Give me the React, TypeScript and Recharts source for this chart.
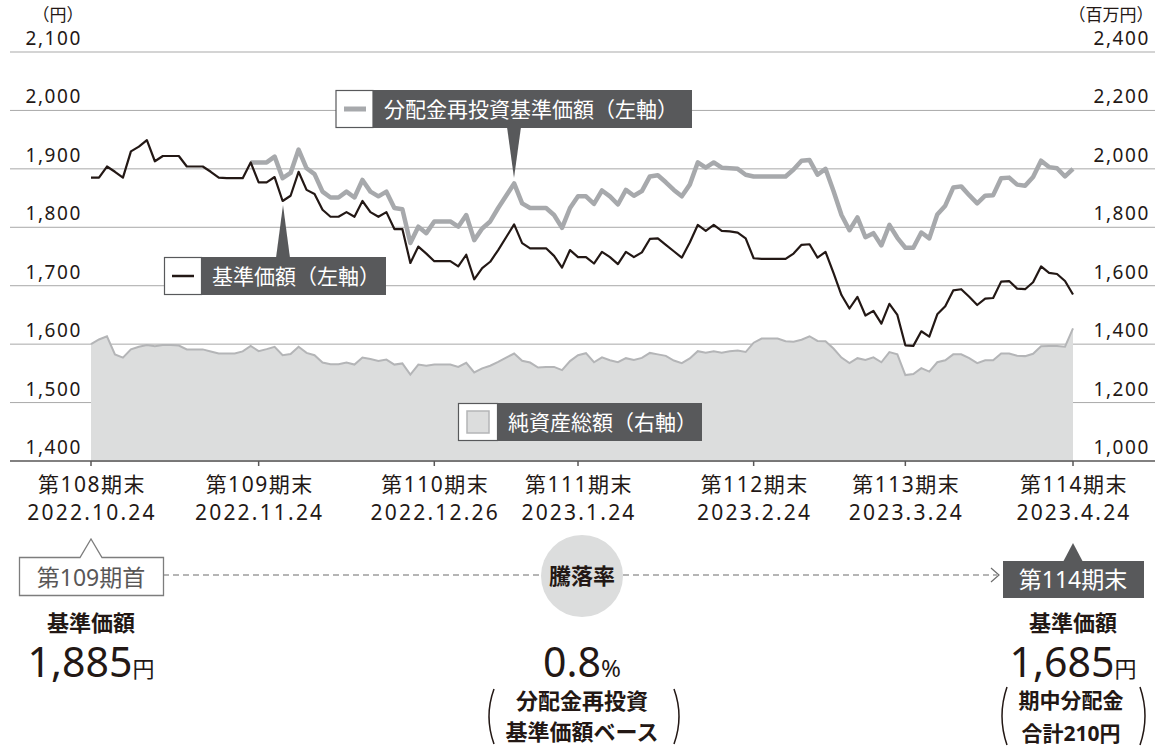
import React from 'react';
import { ComposedChart, Line, Area, XAxis, YAxis, CartesianGrid } from 'recharts';

// 基準価額 (円) — one value per business day, 2022.10.24 .. 2023.4.24
const navPrice = [
  1885, 1885, 1904, 1895, 1885, 1930, 1938, 1949, 1913, 1922,
  1922, 1922, 1904, 1904, 1904, 1895, 1885, 1884, 1884, 1884,
  1911, 1877, 1877, 1886, 1845, 1854, 1895, 1864, 1857, 1830,
  1818, 1818, 1826, 1818, 1845, 1826, 1818, 1826, 1797, 1797,
  1739, 1767, 1755, 1742, 1742, 1742, 1733, 1753, 1711, 1730,
  1741, 1761, 1783, 1805, 1773, 1764, 1764, 1764, 1751, 1731,
  1761, 1749, 1749, 1738, 1758, 1749, 1737, 1758, 1749, 1757,
  1780, 1781, 1770, 1759, 1748, 1774, 1804, 1794, 1804, 1794,
  1793, 1791, 1781, 1747, 1746, 1746, 1746, 1746, 1755, 1770,
  1771, 1748, 1758, 1722, 1684, 1661, 1681, 1649, 1657, 1635,
  1669, 1650, 1598, 1597, 1622, 1613, 1651, 1665, 1692, 1694,
  1681, 1667, 1678, 1679, 1707, 1708, 1695, 1694, 1706, 1733,
  1722, 1720, 1708, 1685,
];

// 分配金再投資基準価額 (円) — starts at index reinvStart
const reinvStart = 20;
const reinvPrice = [
  1911, 1911, 1911, 1921, 1884, 1893, 1933, 1901, 1891, 1861,
  1851, 1851, 1861, 1851, 1881, 1861, 1853, 1861, 1833, 1831,
  1773, 1801, 1790, 1810, 1810, 1810, 1801, 1821, 1778, 1798,
  1810, 1833, 1854, 1875, 1841, 1833, 1833, 1833, 1821, 1799,
  1833, 1853, 1853, 1840, 1863, 1853, 1839, 1864, 1854, 1862,
  1887, 1889, 1877, 1864, 1853, 1873, 1911, 1902, 1911, 1902,
  1901, 1900, 1890, 1887, 1887, 1887, 1887, 1887, 1899, 1914,
  1915, 1890, 1900, 1862, 1821, 1795, 1817, 1783, 1790, 1769,
  1804, 1782, 1765, 1765, 1791, 1781, 1822, 1837, 1868, 1870,
  1855, 1841, 1854, 1855, 1884, 1885, 1873, 1871, 1886, 1914,
  1903, 1901, 1887, 1900,
];

// 純資産総額 (百万円)
const netAssets = [
  1400, 1416, 1427, 1365, 1354, 1382, 1391, 1397, 1393, 1397,
  1397, 1395, 1382, 1382, 1382, 1375, 1368, 1368, 1368, 1375,
  1394, 1376, 1383, 1391, 1362, 1366, 1391, 1370, 1362, 1337,
  1331, 1331, 1337, 1330, 1354, 1349, 1342, 1347, 1330, 1334,
  1296, 1330, 1326, 1330, 1330, 1330, 1322, 1336, 1303, 1317,
  1326, 1339, 1354, 1368, 1343, 1337, 1320, 1322, 1322, 1311,
  1342, 1362, 1369, 1338, 1355, 1345, 1338, 1352, 1346, 1353,
  1370, 1365, 1360, 1344, 1335, 1351, 1376, 1371, 1376, 1371,
  1376, 1378, 1373, 1405, 1419, 1419, 1419, 1410, 1408, 1415,
  1427, 1411, 1410, 1385, 1354, 1335, 1352, 1346, 1355, 1338,
  1373, 1365, 1294, 1298, 1318, 1306, 1338, 1345, 1365, 1365,
  1352, 1335, 1345, 1345, 1368, 1368, 1360, 1359, 1367, 1393,
  1394, 1394, 1391, 1454,
];

const tickIndex = [0, 21, 43, 61, 83, 102, 123];
const periodLabels = ['第108期末', '第109期末', '第110期末', '第111期末', '第112期末', '第113期末', '第114期末'];
const dateLabels = ['2022.10.24', '2022.11.24', '2022.12.26', '2023.1.24', '2023.2.24', '2023.3.24', '2023.4.24'];
const leftTicks = [1400, 1500, 1600, 1700, 1800, 1900, 2000, 2100];
const rightTicks = [1000, 1200, 1400, 1600, 1800, 2000, 2200, 2400];

const data = navPrice.map((v, i) => ({
  i,
  nav: v,
  reinv: i >= reinvStart ? reinvPrice[i - reinvStart] : null,
  aum: netAssets[i],
}));

const TXT = '#231815';
const DARK = '#58595b';
const GRID = '#a9a9a9';
const LINE_GRAY = '#a7a9ac';
const AREA_FILL = '#dcdddd';
const AREA_STROKE = '#b4b5b7';
const FONT = "'Noto Sans', 'Noto Sans CJK JP', sans-serif";
const JP = "'Noto Sans CJK JP', sans-serif";

const fmt = (v: number) => v.toLocaleString('en-US');

const LeftTick = (props: any) => {
  const { y, payload } = props;
  const isBase = payload.value === leftTicks[0];
  return (
    <g>
      <line x1={10} x2={isBase ? 1155 : 91} y1={y} y2={y} stroke={isBase ? '#595757' : GRID} strokeWidth={isBase ? 1.6 : 1} />
      <text x={82} y={y - 7} textAnchor="end" fontSize={19} fill={TXT} fontFamily={FONT} letterSpacing={1.6}>
        {fmt(payload.value)}
      </text>
    </g>
  );
};

const RightTick = (props: any) => {
  const { y, payload } = props;
  const isBase = payload.value === rightTicks[0];
  return (
    <g>
      {!isBase && <line x1={1073} x2={1155} y1={y} y2={y} stroke={GRID} strokeWidth={1} />}
      <text x={1150} y={y - 7} textAnchor="end" fontSize={19} fill={TXT} fontFamily={FONT} letterSpacing={1.6}>
        {fmt(payload.value)}
      </text>
    </g>
  );
};

const XTick = (props: any) => {
  const { x, y, payload } = props;
  const k = tickIndex.indexOf(payload.value);
  return (
    <g>
      <line x1={x} x2={x} y1={y} y2={y + 5} stroke="#595757" strokeWidth={1.5} />
      <text x={x + 1} y={y + 31} textAnchor="middle" fontSize={21} fill={TXT} fontFamily={FONT} letterSpacing={1.5}>
        {periodLabels[k]}
      </text>
      <text x={x + 1} y={y + 59} textAnchor="middle" fontSize={21} fill={TXT} fontFamily={FONT} letterSpacing={2.2}>
        {dateLabels[k]}
      </text>
    </g>
  );
};

const Paren = ({ x, y1, y2, dir }: { x: number; y1: number; y2: number; dir: number }) => (
  <path d={`M${x},${y1} Q${x - dir * 10},${(y1 + y2) / 2} ${x},${y2}`} stroke={TXT} strokeWidth={1.5} fill="none" />
);

export default function App() {
  return (
    <div style={{ position: 'absolute', left: 0, top: 0, width: 1163, height: 746, background: '#fff', overflow: 'hidden' }}>
      <div style={{ position: 'absolute', left: 0, top: 0 }}>
        <ComposedChart width={1163} height={560} data={data} margin={{ top: 52, left: 10, right: 8, bottom: 0 }}>
          <CartesianGrid yAxisId="left" vertical={false} stroke={GRID} strokeWidth={1} />
          <XAxis
            dataKey="i"
            type="number"
            domain={[0, navPrice.length - 1]}
            ticks={tickIndex}
            interval={0}
            height={99}
            axisLine={false}
            tickLine={false}
            tickSize={0}
            tickMargin={0}
            tick={XTick}
          />
          <YAxis
            yAxisId="left"
            domain={[leftTicks[0], leftTicks[leftTicks.length - 1]]}
            ticks={leftTicks}
            interval={0}
            width={81}
            axisLine={false}
            tickLine={false}
            tick={LeftTick}
          />
          <YAxis
            yAxisId="right"
            orientation="right"
            domain={[rightTicks[0], rightTicks[rightTicks.length - 1]]}
            ticks={rightTicks}
            interval={0}
            width={82}
            axisLine={false}
            tickLine={false}
            tick={RightTick}
          />
          <Area
            yAxisId="right"
            type="linear"
            dataKey="aum"
            fill={AREA_FILL}
            fillOpacity={1}
            stroke={AREA_STROKE}
            strokeWidth={2}
            isAnimationActive={false}
            dot={false}
            activeDot={false}
          />
          <Line
            yAxisId="left"
            type="linear"
            dataKey="reinv"
            stroke={LINE_GRAY}
            strokeWidth={4.5}
            strokeLinejoin="round"
            dot={false}
            activeDot={false}
            isAnimationActive={false}
          />
          <Line
            yAxisId="left"
            type="linear"
            dataKey="nav"
            stroke={TXT}
            strokeWidth={2.2}
            strokeLinejoin="round"
            dot={false}
            activeDot={false}
            isAnimationActive={false}
          />
        </ComposedChart>
      </div>
      <svg width={1163} height={746} style={{ position: 'absolute', left: 0, top: 0, pointerEvents: 'none' }}>
        {/* units */}
        <text x={58} y={21} textAnchor="middle" fontSize={17} fill={TXT} fontFamily={JP}>（円）</text>
        <text x={1111} y={21} textAnchor="middle" fontSize={17} fill={TXT} fontFamily={JP}>（百万円）</text>

        {/* callout: 分配金再投資基準価額 */}
        <polygon points="507,127 521,127 514,178" fill={DARK} />
        <rect x={336} y={90.5} width={37} height={37} fill="#fff" stroke={DARK} strokeWidth={1.2} />
        <line x1={344} x2={366} y1={109} y2={109} stroke={LINE_GRAY} strokeWidth={5} />
        <rect x={373} y={90} width={319} height={38} fill={DARK} />
        <text x={384} y={117} fontSize={21} fill="#fff" fontFamily={JP}>分配金再投資基準価額（左軸）</text>

        {/* callout: 基準価額 */}
        <polygon points="276,258 290,258 283,205" fill={DARK} />
        <rect x={164.5} y={257.5} width={37} height={37} fill="#fff" stroke={DARK} strokeWidth={1.2} />
        <line x1={172} x2={194} y1={276} y2={276} stroke={TXT} strokeWidth={2.5} />
        <rect x={201} y={257} width={185} height={38} fill={DARK} />
        <text x={212} y={284} fontSize={21} fill="#fff" fontFamily={JP}>基準価額（左軸）</text>

        {/* callout: 純資産総額 */}
        <rect x={458.5} y={403.5} width={39} height={37} fill="#fff" stroke={DARK} strokeWidth={1.2} />
        <rect x={467} y={411} width={22} height={22} fill={AREA_FILL} stroke={AREA_STROKE} strokeWidth={1.5} />
        <rect x={497} y={403} width={205} height={38} fill={DARK} />
        <text x={508} y={430} fontSize={21} fill="#fff" fontFamily={JP}>純資産総額（右軸）</text>

        {/* bottom summary */}
        <line x1={163} x2={997} y1={575} y2={575} stroke="#6d6d6d" strokeWidth={1.2} strokeDasharray="6 4" />
        <polyline points="991,568 999,575 991,582" fill="none" stroke="#6d6d6d" strokeWidth={1.2} />
        <path d="M19.5,557.5 H80 L91,539 L102,557.5 H163.5 V595.5 H19.5 Z" fill="#fff" stroke="#7d7d7d" strokeWidth={1.3} />
        <text x={91} y={586} textAnchor="middle" fontSize={23} fill="#595757" fontFamily={FONT}>第109期首</text>

        <circle cx={582} cy={576} r={41} fill={AREA_FILL} />
        <text x={582} y={584} textAnchor="middle" fontSize={22} fontWeight={700} fill={TXT} fontFamily={JP}>騰落率</text>

        <polygon points="1063,562 1083,562 1073,543" fill={DARK} />
        <rect x={1003} y={561} width={141} height={37} fill={DARK} />
        <text x={1073} y={588} textAnchor="middle" fontSize={23} fill="#fff" fontFamily={FONT}>第114期末</text>

        <text x={91} y={631} textAnchor="middle" fontSize={22} fontWeight={700} fill={TXT} fontFamily={JP}>基準価額</text>
        <text x={91} y={677} textAnchor="middle" fill={TXT} fontFamily={FONT}>
          <tspan fontSize={41}>1,885</tspan>
          <tspan fontSize={22}>円</tspan>
        </text>

        <text x={1073} y={631} textAnchor="middle" fontSize={22} fontWeight={700} fill={TXT} fontFamily={JP}>基準価額</text>
        <text x={1073} y={677} textAnchor="middle" fill={TXT} fontFamily={FONT}>
          <tspan fontSize={41}>1,685</tspan>
          <tspan fontSize={22}>円</tspan>
        </text>
        <Paren x={1007} y1={687} y2={745} dir={1} />
        <Paren x={1140} y1={687} y2={745} dir={-1} />
        <text x={1071} y={708} textAnchor="middle" fontSize={21} fontWeight={700} fill={TXT} fontFamily={FONT}>期中分配金</text>
        <text x={1071} y={741} textAnchor="middle" fontSize={21} fontWeight={700} fill={TXT} fontFamily={FONT}>合計210円</text>

        <text x={582} y={677} textAnchor="middle" fill={TXT} fontFamily={FONT}>
          <tspan fontSize={41}>0.8</tspan>
          <tspan fontSize={24}>%</tspan>
        </text>
        <Paren x={494} y1={689} y2={744} dir={1} />
        <Paren x={674} y1={689} y2={744} dir={-1} />
        <text x={582} y={709} textAnchor="middle" fontSize={22} fontWeight={700} fill={TXT} fontFamily={JP}>分配金再投資</text>
        <text x={582} y={740} textAnchor="middle" fontSize={22} fontWeight={700} fill={TXT} fontFamily={JP}>基準価額ベース</text>
      </svg>
    </div>
  );
}
